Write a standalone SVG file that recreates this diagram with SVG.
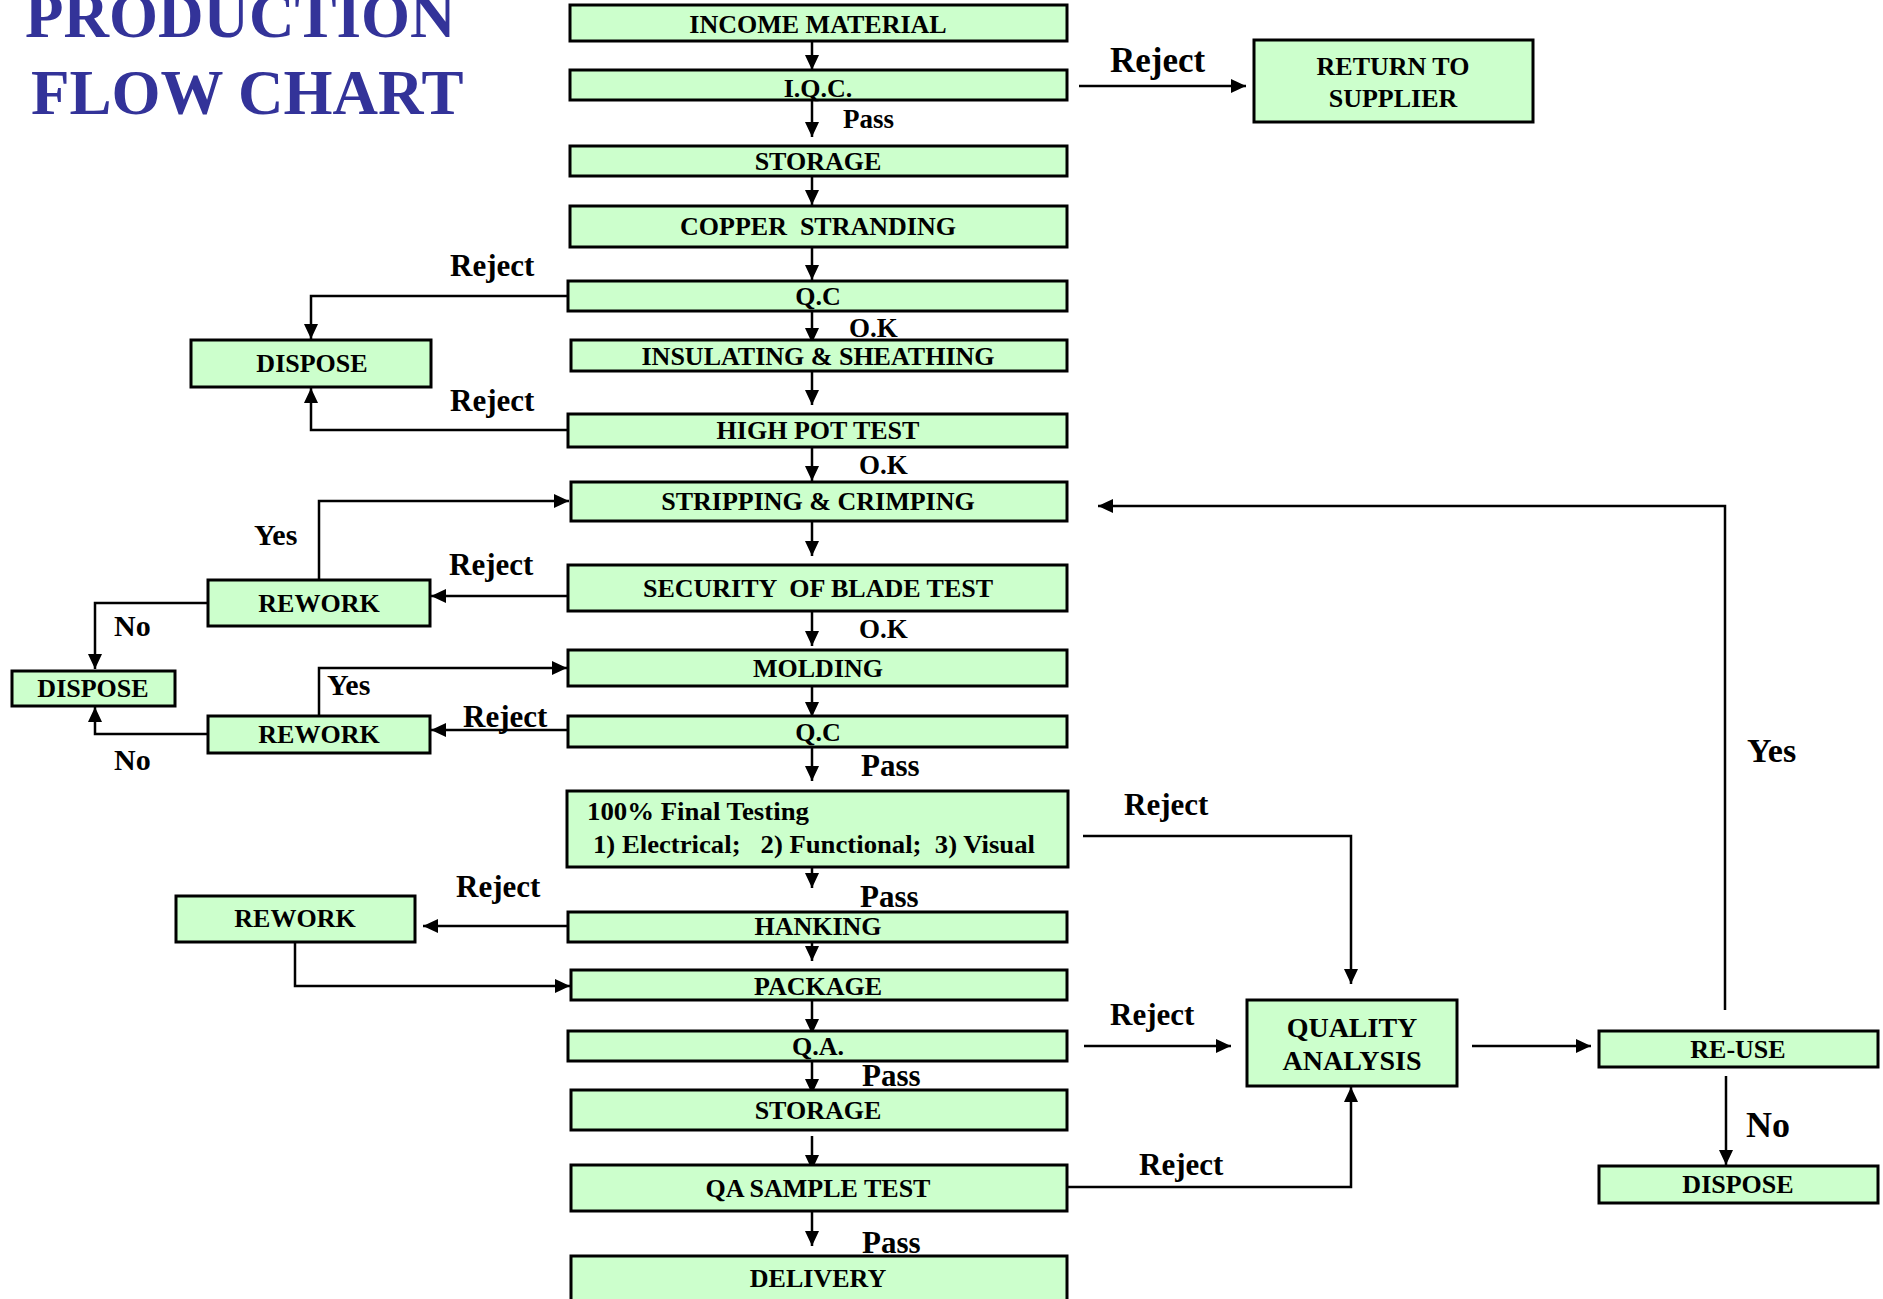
<svg xmlns="http://www.w3.org/2000/svg" width="1883" height="1299" viewBox="0 0 1883 1299">
<style>
.box{fill:#CCFFCC;stroke:#000;stroke-width:3}
.bt{font-family:"Liberation Serif","Times New Roman",serif;font-weight:bold;font-size:26px;fill:#000;text-anchor:middle}
.lb{font-family:"Liberation Serif","Times New Roman",serif;font-weight:bold;font-size:31px;fill:#000}
.sm{font-size:27px}
.title{font-family:"Liberation Serif","Times New Roman",serif;font-weight:bold;font-size:63px;fill:#333399}
.c{fill:none;stroke:#000;stroke-width:2.5}
</style>
<defs>
<marker id="ah" markerUnits="userSpaceOnUse" markerWidth="16" markerHeight="14" refX="15" refY="7" orient="auto">
<path d="M0,0 L15,7 L0,14 z" fill="#000"/>
</marker>
</defs>
<rect width="1883" height="1299" fill="#fff"/>
<g id="title">
<text class="title" x="25" y="37">PRODUCTION</text>
<text class="title" x="31" y="114">FLOW CHART</text>
</g>
<g id="connectors">
<g marker-end="url(#ah)" class="c">
<path class="c" d="M812,41 V70"/>
<path class="c" d="M812,100 V137"/>
<path class="c" d="M812,176 V205"/>
<path class="c" d="M812,248 V280"/>
<path class="c" d="M812,311 V343"/>
<path class="c" d="M812,371 V405"/>
<path class="c" d="M812,447 V481"/>
<path class="c" d="M812,521 V556"/>
<path class="c" d="M812,611 V646"/>
<path class="c" d="M812,686 V717"/>
<path class="c" d="M812,747 V781"/>
<path class="c" d="M812,867 V888"/>
<path class="c" d="M812,942 V961"/>
<path class="c" d="M812,1000 V1034"/>
<path class="c" d="M812,1061 V1094"/>
<path class="c" d="M812,1136 V1170"/>
<path class="c" d="M812,1211 V1246"/>
<path class="c" d="M1079,86 H1246"/>
<path class="c" d="M568,296 H311 V339"/>
<path class="c" d="M568,430 H311 V388"/>
<path class="c" d="M319,580 V501 H569"/>
<path class="c" d="M568,596 H431"/>
<path class="c" d="M208,603 H95 V669"/>
<path class="c" d="M319,716 V668 H567"/>
<path class="c" d="M568,730 H431"/>
<path class="c" d="M208,734 H95 V707"/>
<path class="c" d="M568,926 H423"/>
<path class="c" d="M295,942 V986 H570"/>
<path class="c" d="M1083,836 H1351 V984"/>
<path class="c" d="M1084,1046 H1231"/>
<path class="c" d="M1067,1187 H1351 V1087"/>
<path class="c" d="M1472,1046 H1591"/>
<path class="c" d="M1726,1076 V1165"/>
<path class="c" d="M1725,1010 V506 H1098"/>
</g>
</g>
<g id="labels">
<text class="lb" x="1110" y="72" style="font-size:35px">Reject</text>
<text class="lb sm" x="843" y="128">Pass</text>
<text class="lb" x="450" y="276">Reject</text>
<text class="lb sm" x="849" y="337">O.K</text>
<text class="lb" x="450" y="411">Reject</text>
<text class="lb sm" x="859" y="474">O.K</text>
<text class="lb" x="254" y="545" style="font-size:30px">Yes</text>
<text class="lb" x="449" y="575">Reject</text>
<text class="lb" x="114" y="636" style="font-size:30px">No</text>
<text class="lb sm" x="859" y="638">O.K</text>
<text class="lb" x="327" y="695" style="font-size:30px">Yes</text>
<text class="lb" x="463" y="727">Reject</text>
<text class="lb" x="114" y="770" style="font-size:30px">No</text>
<text class="lb" x="861" y="776">Pass</text>
<text class="lb" x="1124" y="815">Reject</text>
<text class="lb" x="456" y="897">Reject</text>
<text class="lb" x="860" y="907">Pass</text>
<text class="lb" x="1110" y="1025">Reject</text>
<text class="lb" x="862" y="1086">Pass</text>
<text class="lb" x="1139" y="1175">Reject</text>
<text class="lb" x="862" y="1253">Pass</text>
<text class="lb" x="1747" y="762" style="font-size:34px">Yes</text>
<text class="lb" x="1746" y="1137" style="font-size:36px">No</text>
</g>
<g id="n-income"><rect class="box" x="570" y="5" width="497" height="36"/><text class="bt" x="818" y="33">INCOME MATERIAL</text></g>
<g id="n-iqc"><rect class="box" x="570" y="70" width="497" height="30"/><text class="bt" x="818" y="97">I.Q.C.</text></g>
<g id="n-storage1"><rect class="box" x="570" y="146" width="497" height="30"/><text class="bt" x="818" y="170">STORAGE</text></g>
<g id="n-copper"><rect class="box" x="570" y="206" width="497" height="41"/><text class="bt" x="818" y="235" style="white-space:pre">COPPER  STRANDING</text></g>
<g id="n-qc1"><rect class="box" x="568" y="281" width="499" height="30"/><text class="bt" x="818" y="305">Q.C</text></g>
<g id="n-insul"><rect class="box" x="571" y="340" width="496" height="31"/><text class="bt" x="818" y="365">INSULATING &amp; SHEATHING</text></g>
<g id="n-highpot"><rect class="box" x="568" y="414" width="499" height="33"/><text class="bt" x="818" y="439">HIGH POT TEST</text></g>
<g id="n-strip"><rect class="box" x="571" y="482" width="496" height="39"/><text class="bt" x="818" y="510">STRIPPING &amp; CRIMPING</text></g>
<g id="n-security"><rect class="box" x="568" y="565" width="499" height="46"/><text class="bt" x="818" y="597" style="white-space:pre">SECURITY  OF BLADE TEST</text></g>
<g id="n-molding"><rect class="box" x="568" y="650" width="499" height="36"/><text class="bt" x="818" y="677">MOLDING</text></g>
<g id="n-qc2"><rect class="box" x="568" y="716" width="499" height="31"/><text class="bt" x="818" y="741">Q.C</text></g>
<g id="n-final"><rect class="box" x="567" y="791" width="501" height="76"/>
<text class="bt" x="587" y="820" style="text-anchor:start" textLength="222" lengthAdjust="spacingAndGlyphs">100% Final Testing</text>
<text class="bt" x="593" y="853" style="text-anchor:start;white-space:pre" textLength="442" lengthAdjust="spacingAndGlyphs">1) Electrical;   2) Functional;  3) Visual</text></g>
<g id="n-hanking"><rect class="box" x="568" y="912" width="499" height="30"/><text class="bt" x="818" y="935">HANKING</text></g>
<g id="n-package"><rect class="box" x="571" y="970" width="496" height="30"/><text class="bt" x="818" y="995">PACKAGE</text></g>
<g id="n-qa"><rect class="box" x="568" y="1031" width="499" height="30"/><text class="bt" x="818" y="1055">Q.A.</text></g>
<g id="n-storage2"><rect class="box" x="571" y="1090" width="496" height="40"/><text class="bt" x="818" y="1119">STORAGE</text></g>
<g id="n-qasample"><rect class="box" x="571" y="1165" width="496" height="46"/><text class="bt" x="818" y="1197">QA SAMPLE TEST</text></g>
<g id="n-delivery"><rect class="box" x="571" y="1256" width="496" height="60"/><text class="bt" x="818" y="1287">DELIVERY</text></g>
<g id="n-return"><rect class="box" x="1254" y="40" width="279" height="82"/><text class="bt" x="1393" y="75">RETURN TO</text><text class="bt" x="1393" y="107">SUPPLIER</text></g>
<g id="n-dispose1"><rect class="box" x="191" y="340" width="240" height="47"/><text class="bt" x="312" y="372">DISPOSE</text></g>
<g id="n-rework1"><rect class="box" x="208" y="580" width="222" height="46"/><text class="bt" x="319" y="612">REWORK</text></g>
<g id="n-dispose2"><rect class="box" x="12" y="671" width="163" height="35"/><text class="bt" x="93" y="697">DISPOSE</text></g>
<g id="n-rework2"><rect class="box" x="208" y="716" width="222" height="37"/><text class="bt" x="319" y="743">REWORK</text></g>
<g id="n-rework3"><rect class="box" x="176" y="896" width="239" height="46"/><text class="bt" x="295" y="927">REWORK</text></g>
<g id="n-quality"><rect class="box" x="1247" y="1000" width="210" height="86"/><text class="bt" x="1352" y="1037" style="font-size:28px">QUALITY</text><text class="bt" x="1352" y="1070" style="font-size:28px">ANALYSIS</text></g>
<g id="n-reuse"><rect class="box" x="1599" y="1031" width="279" height="36"/><text class="bt" x="1738" y="1058">RE-USE</text></g>
<g id="n-dispose3"><rect class="box" x="1599" y="1166" width="279" height="37"/><text class="bt" x="1738" y="1193">DISPOSE</text></g>
</svg>
